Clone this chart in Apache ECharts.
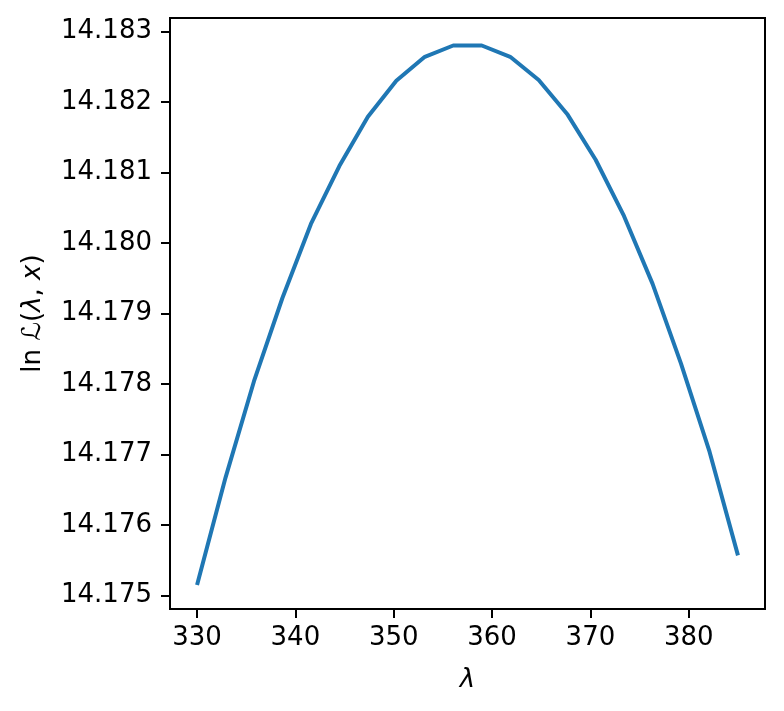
<!DOCTYPE html>
<html>
<head>
<meta charset="utf-8">
<script src="https://cdn.jsdelivr.net/npm/echarts@6/dist/echarts.min.js"></script>
<style>html,body{margin:0;padding:0;background:#fff;}#c{width:784px;height:711px;}</style>
</head>
<body>
<div id="c"></div>
<script>
var lambdas = [330, 332.89, 335.79, 338.68, 341.58, 344.47, 347.37, 350.26, 353.16, 356.05,
               358.95, 361.84, 364.74, 367.63, 370.53, 373.42, 376.32, 379.21, 382.11, 385];
var logL = [14.17515, 14.17667, 14.17804, 14.17922, 14.18027, 14.18109, 14.18179, 14.18230, 14.18264, 14.18280,
            14.18280, 14.18264, 14.18231, 14.18183, 14.18118, 14.18038, 14.17942, 14.17829, 14.17704, 14.17557];
var xTicks = [330, 340, 350, 360, 370, 380];
var yTicks = [14.175, 14.176, 14.177, 14.178, 14.179, 14.180, 14.181, 14.182, 14.183];

var FONT = 'DejaVu Sans';
var FS = 26;
var chart = echarts.init(document.getElementById('c'), null, {renderer: 'canvas'});
var data = lambdas.map(function (l, i) { return [l, logL[i]]; });
chart.setOption({
  animation: false,
  backgroundColor: '#ffffff',
  grid: {left: 170, right: 19, top: 18, bottom: 102, show: true, borderColor: '#000', borderWidth: 2, backgroundColor: 'transparent'},
  xAxis: {
    type: 'value', min: 327.25, max: 387.75,
    name: 'λ', nameLocation: 'middle', nameGap: 58,
    nameTextStyle: {fontFamily: FONT, fontSize: FS, fontStyle: 'italic', color: '#000'},
    axisLine: {show: true, onZero: false, lineStyle: {color: '#000', width: 2}},
    axisTick: {show: true, length: 9, lineStyle: {color: '#000', width: 2}, customValues: xTicks},
    axisLabel: {margin: 16, fontFamily: FONT, fontSize: FS, color: '#000', customValues: xTicks,
      formatter: function (v) { return String(Math.round(v)); }},
    splitLine: {show: false}
  },
  yAxis: {
    type: 'value', min: 14.17481, max: 14.18319,
    name: '{n|ln }{c|ℒ}{n|(}{i|λ}{n|, }{i|x}{n|)}', nameLocation: 'middle', nameGap: 124,
    nameTextStyle: {fontFamily: FONT, fontSize: FS, color: '#000',
      rich: {
        n: {fontFamily: FONT, fontSize: FS, color: '#000'},
        i: {fontFamily: FONT, fontSize: FS, fontStyle: 'italic', color: '#000'},
        c: {fontFamily: FONT, fontSize: FS, fontStyle: 'italic', color: '#000'}
      }},
    axisLine: {show: true, onZero: false, lineStyle: {color: '#000', width: 2}},
    axisTick: {show: true, length: 9, lineStyle: {color: '#000', width: 2}, customValues: yTicks},
    axisLabel: {margin: 18, fontFamily: FONT, fontSize: FS, color: '#000', customValues: yTicks,
      formatter: function (v) { return v.toFixed(3); }},
    splitLine: {show: false}
  },
  series: [{
    type: 'line', data: data, showSymbol: false, symbol: 'none',
    lineStyle: {color: '#1f77b4', width: 4, join: 'round', cap: 'butt'},
    itemStyle: {color: '#1f77b4'}
  }]
});
</script>
</body>
</html>
